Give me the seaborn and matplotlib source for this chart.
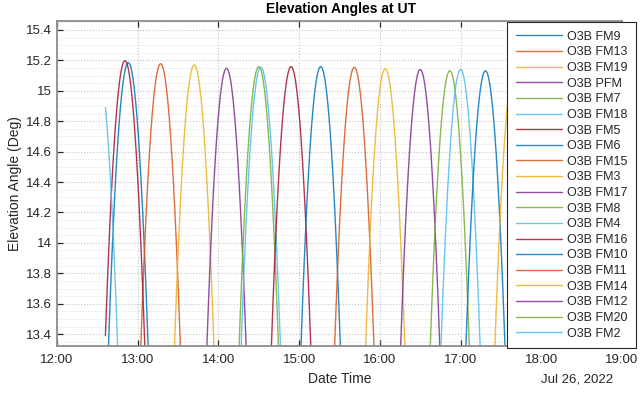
import numpy as np
import pandas as pd
import seaborn as sns
import matplotlib
matplotlib.use("Agg")
import matplotlib.pyplot as plt
import matplotlib.dates as mdates
from matplotlib.ticker import MultipleLocator, FormatStrFormatter

sns.set_style("ticks")
plt.rcParams['font.family'] = ['Liberation Sans', 'DejaVu Sans']

# satellites, in legend order
sats = ['O3B FM9', 'O3B FM13', 'O3B FM19', 'O3B PFM', 'O3B FM7', 'O3B FM18',
        'O3B FM5', 'O3B FM6', 'O3B FM15', 'O3B FM3', 'O3B FM17', 'O3B FM8',
        'O3B FM4', 'O3B FM16', 'O3B FM10', 'O3B FM11', 'O3B FM14', 'O3B FM12',
        'O3B FM20', 'O3B FM2']

# time and elevation at the top of each pass
peak_time = ['12:53:00', '13:17:00', '13:42:00', '14:06:00', '14:30:00', '14:31:30',
             '14:54:00', '15:16:00', '15:41:00', '16:04:00', '16:30:00', '16:52:00',
             '17:00:00', '12:50:30', '17:18:30', '17:58:00', '17:40:00', '18:22:00',
             '18:45:00', '12:30:30']
peak_elev = [15.185, 15.178, 15.170, 15.148, 15.159, 15.155,
             15.159, 15.159, 15.155, 15.146, 15.140, 15.132,
             15.140, 15.198, 15.132, 15.130, 15.130, 15.130,
             15.130, 15.150]

# shape of one pass: minutes from the top vs drop in elevation (deg)
pass_min = [-16, -15.5, -15, -14.5, -14, -13.5, -13, -12.5, -12, -11.5, -11, -10.5,
            -10, -9.5, -9, -8.5, -8, -7.5, -7, -6.5, -6, -5.5, -5, -4.5, -4, -3.5,
            -3, -2.5, -2, -1.5, -1, -0.5, 0, 0.5, 1, 1.5, 2, 2.5, 3, 3.5, 4, 4.5,
            5, 5.5, 6, 6.5, 7, 7.5, 8, 8.5, 9, 9.5, 10, 10.5, 11, 11.5, 12, 12.5,
            13, 13.5, 14, 14.5, 15, 15.5, 16]
pass_drop = [2.202, 2.066, 1.935, 1.808, 1.686, 1.567, 1.453, 1.344, 1.238, 1.137,
             1.041, 0.948, 0.860, 0.776, 0.697, 0.621, 0.550, 0.484, 0.421, 0.363,
             0.310, 0.260, 0.215, 0.174, 0.138, 0.105, 0.077, 0.054, 0.034, 0.019,
             0.009, 0.002, 0.0,
             0.002, 0.009, 0.019, 0.034, 0.054, 0.077, 0.105, 0.138, 0.174, 0.215,
             0.260, 0.310, 0.363, 0.421, 0.484, 0.550, 0.621, 0.697, 0.776, 0.860,
             0.948, 1.041, 1.137, 1.238, 1.344, 1.453, 1.567, 1.686, 1.808, 1.935,
             2.066, 2.202]

day = '2022-07-26'
data_start = pd.Timestamp(day + ' 12:36:00')
data_end = pd.Timestamp(day + ' 18:36:00')

# MATLAB default line colours
matlab_colors = ['#0072BD', '#D95319', '#EDB120', '#7E2F8E', '#77AC30', '#4DBEEE', '#A2142F']
palette = {s: matlab_colors[i % 7] for i, s in enumerate(sats)}

rows = []
for s, pt, pe in zip(sats, peak_time, peak_elev):
    t0 = pd.Timestamp(day + ' ' + pt)
    for m, d in zip(pass_min, pass_drop):
        t = t0 + pd.Timedelta(minutes=m)
        if data_start <= t <= data_end:
            rows.append((s, t, pe - d))
df = pd.DataFrame(rows, columns=['sat', 'time', 'elev'])

fig = plt.figure(figsize=(6.4, 3.94), dpi=100)
ax = fig.add_axes([57/640, 1-346/394, 565/640, 325/394])

sns.lineplot(data=df, x='time', y='elev', hue='sat', hue_order=sats, palette=palette,
             estimator=None, linewidth=1.0, alpha=0.85, ax=ax)

ax.set_xlim(pd.Timestamp(day + ' 12:00'), pd.Timestamp(day + ' 19:00'))
ax.set_ylim(13.322, 15.459)
ax.xaxis.set_major_locator(mdates.HourLocator())
ax.xaxis.set_major_formatter(mdates.DateFormatter('%H:%M'))
ax.yaxis.set_major_locator(MultipleLocator(0.2))
ax.yaxis.set_major_formatter(FormatStrFormatter('%g'))
ax.yaxis.set_minor_locator(MultipleLocator(0.05))

ax.grid(True, which='major', linestyle=':', color='#c4c4c4', linewidth=0.8)
ax.grid(True, which='minor', axis='y', linestyle=':', color='#dadada', linewidth=0.6)
ax.tick_params(which='major', direction='in', length=4, width=0.9, color='#262626',
               labelsize=9.5, labelcolor='#262626', top=True, right=True)
ax.tick_params(axis='x', which='major', pad=6)
ax.tick_params(which='minor', length=0, top=False, right=False)
for sp in ax.spines.values():
    sp.set_color('#8c8c8c')
    sp.set_linewidth(1.3)

ax.set_xlabel('Date Time', fontsize=10, color='#262626', va='center')
ax.xaxis.set_label_coords(0.5, (346-379)/325)
ax.set_ylabel('Elevation Angle (Deg)', fontsize=10, color='#262626', va='center')
ax.yaxis.set_label_coords((15-57)/565, 0.5)
fig.text(341/640, 1-9/394, 'Elevation Angles at UT', fontsize=10, fontweight='bold',
         ha='center', va='center', color='black')
fig.text(577/640, 1-379/394, 'Jul 26, 2022', fontsize=9.5, ha='center', va='center',
         color='#262626')

sns.move_legend(ax, loc='upper right', bbox_to_anchor=((636-57)/565, (346-22)/325),
                title=None, frameon=True, fancybox=False, framealpha=1,
                edgecolor='#262626', fontsize=9, labelspacing=0.29,
                handlelength=3.7, handletextpad=0.4, borderaxespad=0, borderpad=0.7)
leg = ax.get_legend()
leg.get_frame().set_linewidth(0.8)
for h in leg.get_lines():
    h.set_linewidth(1.0)
    h.set_alpha(0.85)

fig.savefig('out.png', dpi=100)
